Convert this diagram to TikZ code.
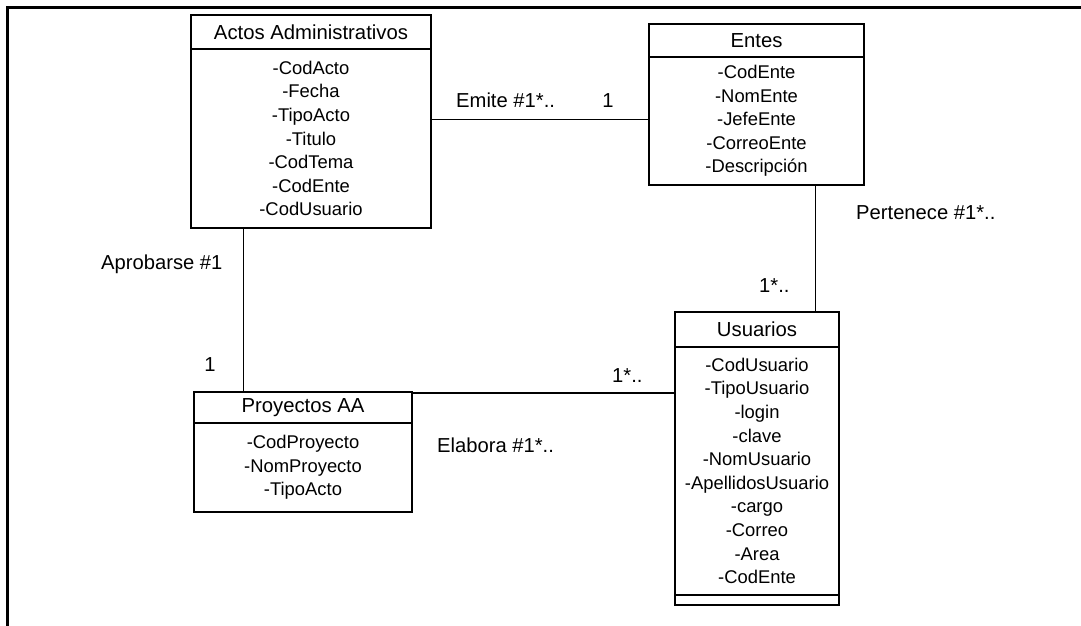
\documentclass[tikz,border=0pt]{standalone}
\usepackage{fontspec}
\setmainfont{Liberation Sans}
\newcommand\clstitle{\fontsize{20.3}{24}\selectfont}
\newcommand\clsattr{\fontsize{18.4}{23.6}\selectfont}
\newcommand\rolefont{\fontsize{20.2}{24}\selectfont}
\tikzset{
  frame/.style={line width=3pt},
  classhead/.style={draw, line width=1.5pt, inner sep=0pt, font=\clstitle},
  classbody/.style={draw, line width=1.5pt, inner sep=0pt, align=center, font=\clsattr},
  link/.style={line width=1.4pt},
  role/.style={inner sep=0pt, font=\rolefont, anchor=base west},
  rolec/.style={inner sep=0pt, font=\rolefont, anchor=base},
}
\begin{document}
\begin{tikzpicture}[x={(1pt,0)}, y={(0,-1pt)}]
\useasboundingbox (0,0) rectangle (1081,626);

% frame on the left and top
\draw[frame] (7,626) -- (7,8) -- (1081,8);

% Actos Administrativos
\node[classhead, minimum width=240, minimum height=34] (actosH) at (311,32) {Actos Administrativos};
\node[classbody, minimum width=240, minimum height=179] (actosB) at (311,138.5)
  {-CodActo\\-Fecha\\-TipoActo\\-Titulo\\-CodTema\\-CodEnte\\-CodUsuario};

% Entes
\node[classhead, minimum width=215, minimum height=33] (entesH) at (756.5,40.5) {Entes};
\node[classbody, minimum width=215, minimum height=128] (entesB) at (756.5,121)
  {-CodEnte\\-NomEnte\\-JefeEnte\\-CorreoEnte\\-Descripción};

% Usuarios
\node[classhead, minimum width=164, minimum height=35] (usuH) at (757,329.5) {Usuarios};
\node[classbody, minimum width=164, minimum height=248] (usuB) at (757,471)
  {-CodUsuario\\-TipoUsuario\\-login\\-clave\\-NomUsuario\\-ApellidosUsuario\\-cargo\\-Correo\\-Area\\-CodEnte};
\node[classbody, minimum width=164, minimum height=10] (usuOps) at (757,600) {};

% Proyectos AA
\node[classhead, minimum width=218, minimum height=31] (proyH) at (303,407.5) {Proyectos AA};
\node[classbody, minimum width=218, minimum height=89] (proyB) at (303,467.5)
  {-CodProyecto\\-NomProyecto\\-TipoActo};

% connector rows and columns
\coordinate (rowAE) at (0,119.5);
\coordinate (colEU) at (815.5,0);
\coordinate (colAP) at (243.5,0);
\coordinate (rowPU) at (0,393);

\draw[link] (actosB.east |- rowAE) -- (entesB.west |- rowAE);
\draw[link] (colEU |- entesB.south) -- (colEU |- usuH.north);
\draw[link] (colAP |- actosB.south) -- (colAP |- proyH.north);
\draw[link] (proyH.east |- rowPU) -- (usuB.west |- rowPU);

% association names and multiplicities
\node[role] (emite) at (456,107) {Emite \#1*..};
\node[rolec] (emiteM) at (608,107) {1};
\node[role] (pert) at (856,219) {Pertenece \#1*..};
\node[role] (pertM) at (759,292) {1*..};
\node[role] (aprob) at (101,269) {Aprobarse \#1};
\node[rolec] (aprobM) at (210,371) {1};
\node[role] (elabM) at (612,382) {1*..};
\node[role] (elab) at (437,452) {Elabora \#1*..};
\end{tikzpicture}
\end{document}
